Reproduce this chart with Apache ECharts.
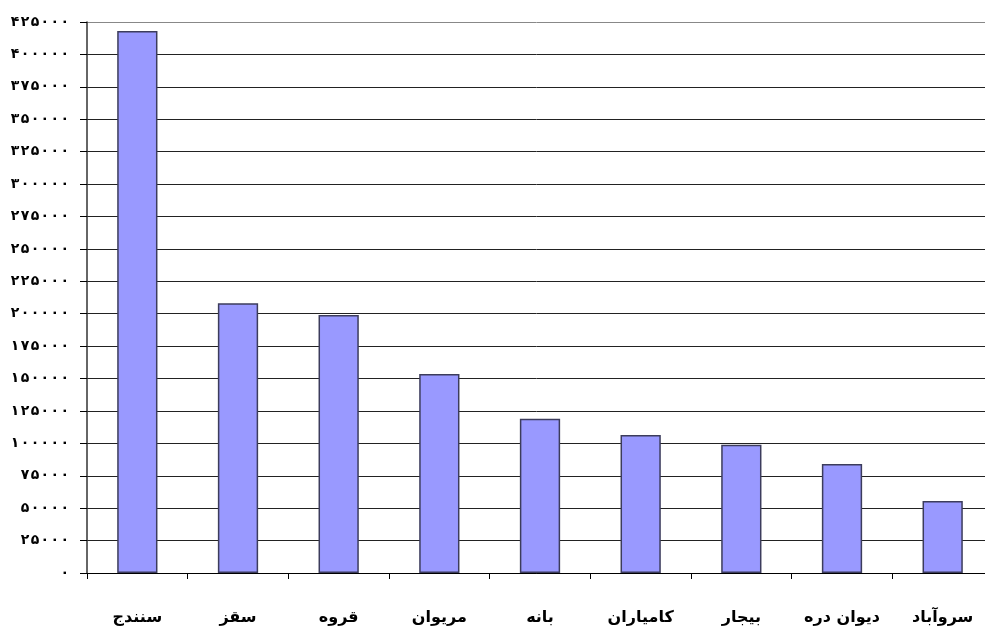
<!DOCTYPE html>
<html>
<head>
<meta charset="utf-8">
<script src="https://cdn.jsdelivr.net/npm/echarts@6/dist/echarts.min.js"></script>
<style>
  html, body { margin: 0; padding: 0; background: #fff; }
  #main { width: 985px; height: 627px; }
</style>
</head>
<body>
<div id="main"></div>
<script>
var cities = ['سنندج', 'سقز', 'قروه', 'مریوان', 'بانه', 'کامیاران', 'بیجار', 'دیوان دره', 'سروآباد'];
var population = [418000, 208000, 199000, 153500, 119000, 106500, 99000, 84000, 55500];

var faDigits = '۰۱۲۳۴۵۶۷۸۹';
function toFa(n) {
    return String(n).replace(/[0-9]/g, function (d) { return faDigits[+d]; });
}

// last split line (top of plot area) is lighter
var gridColors = [];
for (var i = 0; i < 17; i++) gridColors.push('#222');
gridColors.push('#888');

var chartDom = document.getElementById('main');
var myChart = echarts.init(chartDom);
var option = {
    animation: false,
    backgroundColor: '#fff',
    grid: {
        left: 87,
        width: 906,
        top: 22,
        bottom: 54,
        containLabel: false,
        outerBoundsMode: 'none'
    },
    xAxis: {
        type: 'category',
        data: cities,
        axisLine: { lineStyle: { color: '#000', width: 1 } },
        axisTick: { show: true, length: 6, lineStyle: { color: '#000' } },
        axisLabel: {
            margin: 37,
            color: '#000',
            fontFamily: 'DejaVu Sans',
            fontWeight: 'bold',
            fontSize: 16
        }
    },
    yAxis: {
        type: 'value',
        min: 0,
        max: 425000,
        interval: 25000,
        axisLine: { show: true, lineStyle: { color: '#333', width: 1.5 } },
        axisTick: { show: true, length: 7, lineStyle: { color: '#000' } },
        splitLine: { show: true, lineStyle: { color: gridColors, width: 1 } },
        axisLabel: {
            margin: 18,
            color: '#000',
            fontFamily: 'DejaVu Sans',
            fontWeight: 'bold',
            fontSize: 14,
            formatter: function (v) { return toFa(v).split('').join('\u200A'); }
        }
    },
    series: [{
        type: 'bar',
        data: population,
        barWidth: '40%',
        itemStyle: {
            color: '#9999ff',
            borderColor: '#3c3c5c',
            borderWidth: 1.5
        }
    }]
};
myChart.setOption(option);
</script>
</body>
</html>
